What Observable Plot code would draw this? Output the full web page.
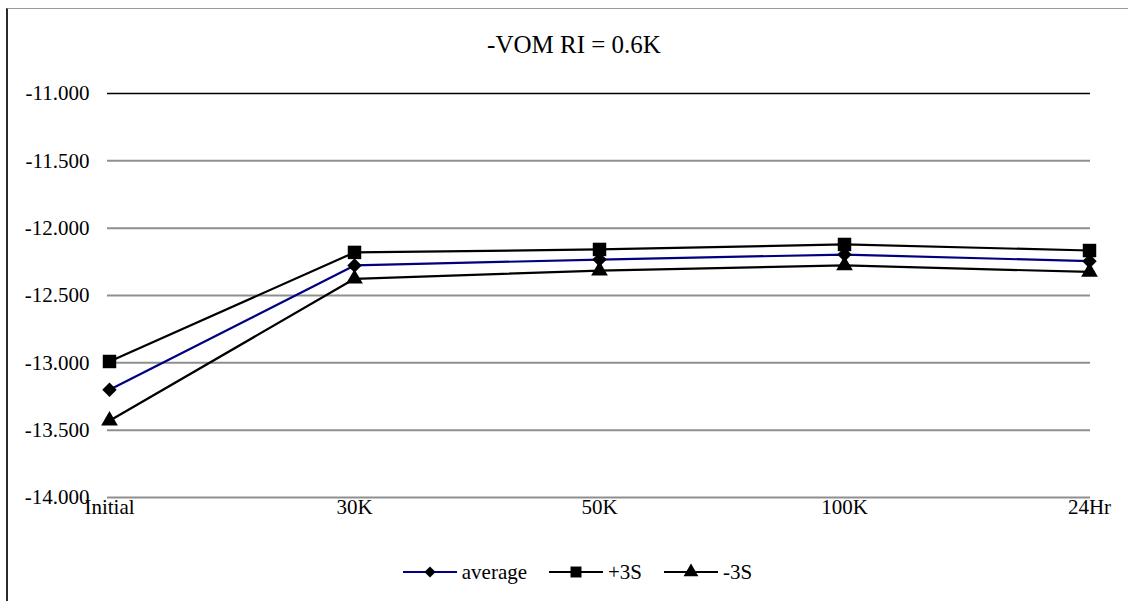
<!DOCTYPE html>
<html>
<head>
<meta charset="utf-8">
<script src="https://cdn.jsdelivr.net/npm/d3@7"></script>
<script src="https://cdn.jsdelivr.net/npm/@observablehq/plot@0.6"></script>
<style>
  html, body { margin: 0; padding: 0; background: #fff; }
  #wrap { position: relative; width: 1128px; height: 601px; overflow: hidden; font-family: 'Liberation Serif', 'DejaVu Serif', serif; }
  #frame { position: absolute; left: 6px; top: 8px; width: 1300px; height: 700px; border-top: 1px solid #9a9a9a; border-left: 2px solid #2a2a2a; pointer-events: none; }
  #title { height: 80px; box-sizing: border-box; padding-top: 32px; padding-left: 20px; text-align: center; font-size: 25px; line-height: 25px; color: #000; font-family: 'Liberation Serif', serif; }
  #legend { display: flex; justify-content: center; align-items: center; padding-left: 27px; height: 40px; font-size: 21px; color: #000; margin-top: 22px; font-family: 'Liberation Serif', serif; }
  .item { display: flex; align-items: center; margin: 0 11px; }
  .item svg { margin-right: 5px; }
  #chart svg text { font-family: 'Liberation Serif', serif; }
</style>
</head>
<body>
<div id="wrap">
  <div id="title">-VOM RI = 0.6K</div>
  <div id="chart"></div>
  <div id="legend"></div>
  <div id="frame"></div>
</div>
<script>
const categories = ["Initial", "30K", "50K", "100K", "24Hr"];
const average = [-13.20, -12.277, -12.233, -12.196, -12.245];
const plus3S = [-12.99, -12.18, -12.158, -12.121, -12.166];
const minus3S = [-13.43, -12.376, -12.315, -12.277, -12.325];
const yTicks = [-11, -11.5, -12, -12.5, -13, -13.5, -14];
const seriesNames = ["average", "+3S", "-3S"];

const seriesValues = [average, plus3S, minus3S];
const seriesColor = {"average": "#000080", "+3S": "#000000", "-3S": "#000000"};
const seriesSymbol = {"average": "diamond2", "+3S": "square", "-3S": "triangle"};
const seriesR = {"average": 6.5, "+3S": 7.6, "-3S": 6.2};

const rows = [];
seriesNames.forEach((s, i) => {
  categories.forEach((c, j) => rows.push({series: s, cat: c, value: seriesValues[i][j]}));
});

const fmt = d => d3.format(".3f")(d).replace("\u2212", "-");

const chart = Plot.plot({
  width: 1128,
  height: 450,
  marginTop: 13,
  marginBottom: 33,
  marginLeft: 107,
  marginRight: 38,
  style: {fontFamily: "'Liberation Serif', serif", fontSize: "21px", color: "#000", background: "#fff"},
  x: {type: "point", domain: categories, padding: 0, label: null},
  y: {domain: [-14, -11], label: null},
  symbol: {type: "identity"},
  r: {type: "identity"},
  marks: [
    Plot.ruleY(yTicks.filter(t => t !== -11), {stroke: "#8f8f8f", strokeWidth: 2}),
    Plot.ruleY([-11], {stroke: "#000", strokeWidth: 1.5}),
    Plot.line(rows, {x: "cat", y: "value", z: "series", stroke: d => seriesColor[d.series], strokeWidth: 2.2}),
    Plot.dot(rows, {x: "cat", y: "value", symbol: d => seriesSymbol[d.series], r: d => seriesR[d.series], fill: "#000", stroke: "none"}),
    Plot.axisX({tickSize: 0, tickPadding: 2, fontSize: 21}),
    Plot.axisY({ticks: yTicks, tickFormat: fmt, tickSize: 0, tickPadding: 18, fontSize: 21})
  ]
});
document.getElementById("chart").appendChild(chart);

// legend
const legend = document.getElementById("legend");
const symMap = {"diamond2": d3.symbolDiamond2, "square": d3.symbolSquare, "triangle": d3.symbolTriangle};
const sizeMap = {"average": 80, "+3S": 120, "-3S": 95};
seriesNames.forEach(s => {
  const item = document.createElement("div");
  item.className = "item";
  const sw = d3.create("svg").attr("width", 54).attr("height", 20);
  sw.append("line").attr("x1", 0).attr("x2", 54).attr("y1", 10).attr("y2", 10)
    .attr("stroke", seriesColor[s]).attr("stroke-width", 2.2);
  sw.append("path").attr("transform", "translate(27,10)")
    .attr("d", d3.symbol(symMap[seriesSymbol[s]], sizeMap[s])()).attr("fill", "#000");
  item.appendChild(sw.node());
  const t = document.createElement("span");
  t.textContent = s;
  item.appendChild(t);
  legend.appendChild(item);
});
</script>
</body>
</html>
